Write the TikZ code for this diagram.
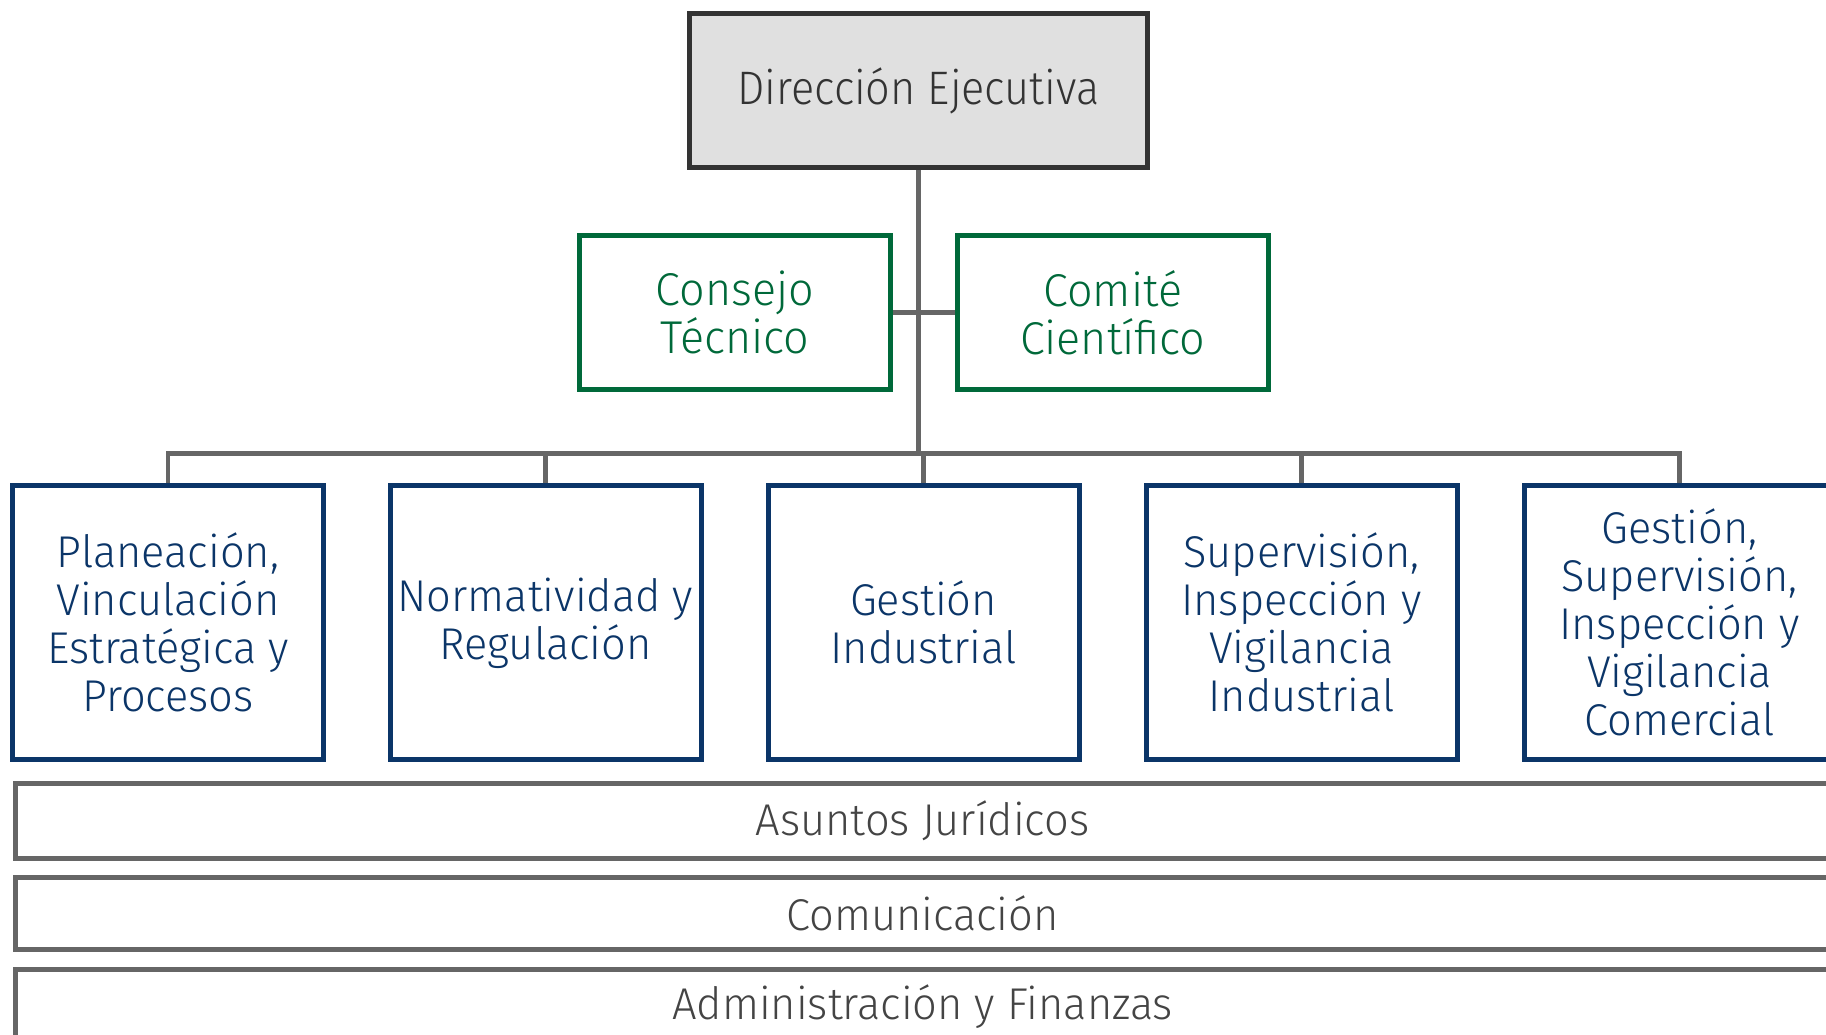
\documentclass[tikz,border=0pt]{standalone}
\usepackage{fontspec}
\IfFontExistsTF{Fira Sans Light}{%
  \setmainfont{Fira Sans Light}%
  \newfontfamily\bodyf{Fira Sans Light}[FakeStretch=0.975]%
  \newfontfamily\topf{Fira Sans Light}[FakeStretch=0.92]%
}{%
  \setmainfont{Fira Sans}%
  \newfontfamily\bodyf{Fira Sans}[FakeStretch=0.975]%
  \newfontfamily\topf{Fira Sans}[FakeStretch=0.92]%
}
\definecolor{topdraw}{HTML}{333333}
\definecolor{topfill}{HTML}{E0E0E0}
\definecolor{linegray}{HTML}{666666}
\definecolor{stripgray}{HTML}{444444}
\definecolor{orgblue}{HTML}{0B3568}
\definecolor{orggreen}{HTML}{00693A}
\begin{document}
\begin{tikzpicture}[x=1pt,y=-1pt,
  topbox/.style={draw=topdraw, fill=topfill, line width=5pt, minimum width=458pt, minimum height=154pt,
    inner sep=0pt, text=topdraw, font=\topf\fontsize{47}{52}\selectfont},
  greenbox/.style={draw=orggreen, fill=white, line width=5pt, minimum width=311pt, minimum height=154.5pt,
    inner sep=0pt, text=orggreen, align=center, font=\bodyf\fontsize{46}{48}\selectfont},
  bluebox/.style={draw=orgblue, fill=white, line width=5pt, minimum width=311pt, minimum height=274pt,
    inner sep=0pt, text=orgblue, align=center, font=\bodyf\fontsize{44.5}{48}\selectfont},
  stripbox/.style={draw=linegray, fill=white, line width=5pt, minimum width=1815pt,
    inner sep=0pt, text=stripgray, font=\bodyf\fontsize{44.5}{48}\selectfont},
  conn/.style={draw=linegray, line width=4.5pt, line join=miter}
]
\useasboundingbox (0,0) rectangle (1826,1034);
\begin{scope}
\clip (0,0) rectangle (1826,1034);
\node[topbox] (top) at (918.3,90.5) {Dirección Ejecutiva};
\node[greenbox] (ct) at (735,312.3) {Consejo\\Técnico};
\node[greenbox] (cc) at (1112.8,312.3) {Comité\\Científico};
\node[bluebox] (b1) at (168,622.8) {Planeación,\\Vinculación\\Estratégica y\\Procesos};
\node[bluebox] (b2) at (545.5,622.8) {Normatividad y\\Regulación};
\node[bluebox] (b3) at (923.5,622.8) {Gestión\\Industrial};
\node[bluebox] (b4) at (1301.5,622.8) {Supervisión,\\Inspección y\\Vigilancia\\Industrial};
\node[bluebox] (b5) at (1679.5,622.8) {Gestión,\\Supervisión,\\Inspección y\\Vigilancia\\Comercial};
\node[stripbox, minimum height=75pt] (s1) at (922.6,820.8) {Asuntos Jurídicos};
\node[stripbox, minimum height=71.7pt] (s2) at (922.6,913.2) {Comunicación};
\node[stripbox, minimum height=75pt] (s3) at (922.6,1006.8) {Administración y Finanzas};
\coordinate (bus) at (918.3,453.3);
\draw[conn] (top.south) -- (bus);
\draw[conn] (ct.east) -- (cc.west);
\draw[conn] (b1.north) -- (b1.north |- bus) -- (b5.north |- bus) -- (b5.north);
\draw[conn] (b2.north) -- (b2.north |- bus);
\draw[conn] (b3.north) -- (b3.north |- bus);
\draw[conn] (b4.north) -- (b4.north |- bus);
\end{scope}
\end{tikzpicture}
\end{document}
